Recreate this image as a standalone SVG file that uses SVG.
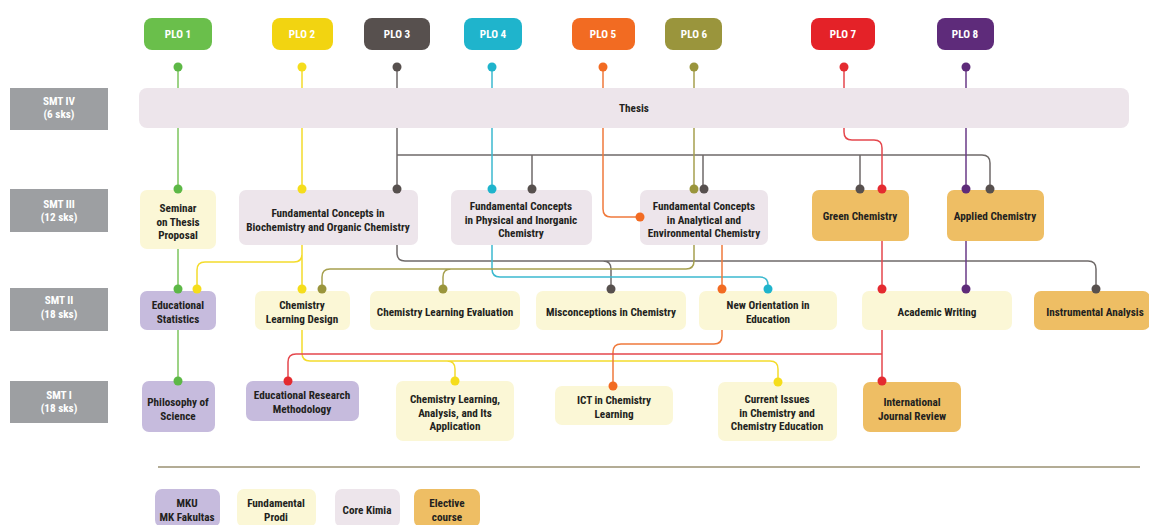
<svg xmlns="http://www.w3.org/2000/svg" width="1149" height="525" viewBox="0 0 1149 525">
<style>
text{font-family:"Liberation Sans Narrow","Roboto Condensed","DejaVu Sans Condensed","Liberation Sans",sans-serif;font-weight:bold;font-size:11.2px;fill:#231f20;text-anchor:middle}
.w{fill:#ffffff}
.smt{fill:#9d9fa2}
.core{fill:#ede5eb}
.fund{fill:#fbf7d6}
.mku{fill:#c6bbdd}
.elec{fill:#eebe64}
.c path{fill:none;stroke-width:1.5}
.g{stroke:#7dc55f}.y{stroke:#f4dc2c}.k{stroke:#6f6a69}.b{stroke:#3cb9cf}.o{stroke:#f07a3c}.v{stroke:#a6a04f}.r{stroke:#e5474d}.p{stroke:#6b3b88}
</style>
<rect width="1149" height="525" fill="#ffffff"/>
<g id="plo">
<g id="plo1"><rect x="144" y="18" width="68" height="32" rx="8" fill="#6abf4b"/><text class="w" x="178" y="38">PLO 1</text></g>
<g id="plo2"><rect x="272" y="18" width="61" height="32" rx="8" fill="#f2d411"/><text class="w" x="302" y="38">PLO 2</text></g>
<g id="plo3"><rect x="364" y="18" width="66" height="32" rx="8" fill="#57504e"/><text class="w" x="397" y="38">PLO 3</text></g>
<g id="plo4"><rect x="464" y="18" width="58" height="32" rx="8" fill="#1fb4cc"/><text class="w" x="493" y="38">PLO 4</text></g>
<g id="plo5"><rect x="572" y="18" width="63" height="32" rx="8" fill="#f26b22"/><text class="w" x="603" y="38">PLO 5</text></g>
<g id="plo6"><rect x="665" y="18" width="57" height="32" rx="8" fill="#9a953c"/><text class="w" x="694" y="38">PLO 6</text></g>
<g id="plo7"><rect x="811" y="18" width="64" height="32" rx="8" fill="#e42228"/><text class="w" x="843" y="38">PLO 7</text></g>
<g id="plo8"><rect x="937" y="18" width="57" height="32" rx="8" fill="#5e2b7a"/><text class="w" x="965" y="38">PLO 8</text></g>
</g>
<g id="semesters">
<g id="smt4"><rect class="smt" x="10" y="88" width="98" height="42"/><text class="w" x="59" y="105">SMT IV</text><text class="w" x="59" y="118">(6 sks)</text></g>
<g id="smt3"><rect class="smt" x="10" y="189" width="98" height="43"/><text class="w" x="59" y="208">SMT III</text><text class="w" x="59" y="221">(12 sks)</text></g>
<g id="smt2"><rect class="smt" x="10" y="288" width="98" height="43"/><text class="w" x="59" y="304">SMT II</text><text class="w" x="59" y="318">(18 sks)</text></g>
<g id="smt1"><rect class="smt" x="10" y="381" width="98" height="42"/><text class="w" x="59" y="399">SMT I</text><text class="w" x="59" y="412">(18 sks)</text></g>
</g>
<g id="thesis"><rect class="core" x="139" y="88" width="990" height="40" rx="8"/><text x="634" y="112">Thesis</text></g>
<g id="seminar"><rect class="fund" x="140" y="190" width="76" height="59" rx="7"/><text x="178" y="212">Seminar</text><text x="178" y="225.5">on Thesis</text><text x="178" y="239">Proposal</text></g>
<g id="biochem"><rect class="core" x="239" y="190" width="179" height="55" rx="7"/><text x="328" y="217">Fundamental Concepts in</text><text x="328" y="230.5">Biochemistry and Organic Chemistry</text></g>
<g id="physical"><rect class="core" x="451" y="190" width="141" height="55" rx="7"/><text x="521" y="210">Fundamental Concepts</text><text x="521" y="223.5">in Physical and Inorganic</text><text x="521" y="237">Chemistry</text></g>
<g id="analytical"><rect class="core" x="640" y="190" width="128" height="55" rx="7"/><text x="704" y="210">Fundamental Concepts</text><text x="704" y="223.5">in Analytical and</text><text x="704" y="237">Environmental Chemistry</text></g>
<g id="green"><rect class="elec" x="812" y="190" width="97" height="51" rx="7"/><text x="860" y="220">Green Chemistry</text></g>
<g id="applied"><rect class="elec" x="947" y="190" width="97" height="51" rx="7"/><text x="995" y="220">Applied Chemistry</text></g>
<g id="edstat"><rect class="mku" x="140" y="291" width="76" height="39" rx="7"/><text x="178" y="309">Educational</text><text x="178" y="322.5">Statistics</text></g>
<g id="cld"><rect class="fund" x="255" y="291" width="95" height="39" rx="7"/><text x="302" y="309">Chemistry</text><text x="302" y="322.5">Learning Design</text></g>
<g id="cle"><rect class="fund" x="370" y="291" width="150" height="39" rx="7"/><text x="445" y="316">Chemistry Learning Evaluation</text></g>
<g id="misc"><rect class="fund" x="536" y="291" width="150" height="39" rx="7"/><text x="611" y="316">Misconceptions in Chemistry</text></g>
<g id="noe"><rect class="fund" x="699" y="291" width="138" height="39" rx="7"/><text x="768" y="309">New Orientation in</text><text x="768" y="322.5">Education</text></g>
<g id="aw"><rect class="fund" x="862" y="291" width="150" height="39" rx="7"/><text x="937" y="316">Academic Writing</text></g>
<g id="ia"><rect class="elec" x="1034" y="291" width="116" height="39" rx="7"/><text x="1095" y="316">Instrumental Analysis</text></g>
<g id="phil"><rect class="mku" x="142" y="381" width="73" height="51" rx="7"/><text x="178" y="406">Philosophy of</text><text x="178" y="419.5">Science</text></g>
<g id="erm"><rect class="mku" x="246" y="381" width="113" height="40" rx="7"/><text x="302" y="399">Educational Research</text><text x="302" y="413">Methodology</text></g>
<g id="cla"><rect class="fund" x="396" y="381" width="118" height="60" rx="7"/><text x="455" y="403">Chemistry Learning,</text><text x="455" y="416.5">Analysis, and Its</text><text x="455" y="430">Application</text></g>
<g id="ict"><rect class="fund" x="555" y="386" width="118" height="39" rx="7"/><text x="614" y="404">ICT in Chemistry</text><text x="614" y="418">Learning</text></g>
<g id="ci"><rect class="fund" x="718" y="382" width="119" height="59" rx="7"/><text x="777" y="403">Current Issues</text><text x="777" y="416.5">in Chemistry and</text><text x="777" y="430">Chemistry Education</text></g>
<g id="ijr"><rect class="elec" x="863" y="382" width="98" height="50" rx="7"/><text x="912" y="406">International</text><text x="912" y="419.5">Journal Review</text></g>
<g id="separator"><line x1="158" y1="467" x2="1140" y2="467" stroke="#9a9072" stroke-width="1.5"/></g>
<g id="legend">
<g id="lg-mku"><rect class="mku" x="155" y="489" width="65" height="38" rx="7"/><text x="187" y="507">MKU</text><text x="187" y="521">MK Fakultas</text></g>
<g id="lg-fund"><rect class="fund" x="237" y="489" width="79" height="38" rx="7"/><text x="276" y="507">Fundamental</text><text x="276" y="521">Prodi</text></g>
<g id="lg-core"><rect class="core" x="335" y="489" width="65" height="38" rx="7"/><text x="367" y="514">Core Kimia</text></g>
<g id="lg-elec"><rect class="elec" x="414" y="489" width="66" height="38" rx="7"/><text x="447" y="507">Elective</text><text x="447" y="521">course</text></g>
</g>
<g id="connectors" class="c">
<path class="g" d="M178 67V88M178 128V189M178 249V289M178 330V381"/>
<path class="y" d="M302 67V88M302 128V189M302 245V289M302 254Q302 262 294 262H205Q197 262 197 270V289M302 330V353Q302 361 310 361H770Q778 361 778 369V382M447 361Q455 361 455 369V381"/>
<path class="k" d="M397 67V88M397 128V189M397 155H982Q990 155 990 163V189M532 155V189M703 155V189M860 155V189M397 245V253Q397 261 405 261H1088Q1096 261 1096 269V289M603 261Q611 261 611 269V289"/>
<path class="b" d="M492 67V88M492 128V189M492 245V269Q492 277 500 277H760Q768 277 768 285V289"/>
<path class="o" d="M603 67V88M603 128V209Q603 217 611 217H640M722 245V289M722 330V336Q722 344 714 344H621Q613 344 613 352V386"/>
<path class="v" d="M694 67V88M694 128V189M694 245V261Q694 269 686 269H330Q322 269 322 277V289M451 269Q443 269 443 277V289"/>
<path class="r" d="M844 67V88M844 128V132Q844 140 852 140H874Q882 140 882 148V189M882 241V289M882 330V381M882 354H296Q288 354 288 362V381"/>
<path class="p" d="M966 67V88M966 128V189M966 241V289"/>
</g>
<g id="connector-dots">
<g fill="#5db846"><circle cx="178" cy="67" r="4.5"/><circle cx="178" cy="189" r="4.5"/><circle cx="178" cy="289" r="4.5"/><circle cx="178" cy="381" r="4.5"/></g>
<g fill="#f5dd1c"><circle cx="302" cy="67" r="4.5"/><circle cx="302" cy="189" r="4.5"/><circle cx="197" cy="289" r="4.5"/><circle cx="302" cy="289" r="4.5"/><circle cx="455" cy="381" r="4.5"/><circle cx="778" cy="382" r="4.5"/></g>
<g fill="#57504e"><circle cx="397" cy="67" r="4.5"/><circle cx="397" cy="189" r="4.5"/><circle cx="532" cy="189" r="4.5"/><circle cx="704" cy="189" r="4.5"/><circle cx="860" cy="189" r="4.5"/><circle cx="990" cy="189" r="4.5"/><circle cx="611" cy="289" r="4.5"/><circle cx="1096" cy="289" r="4.5"/></g>
<g fill="#1fb4cc"><circle cx="492" cy="67" r="4.5"/><circle cx="492" cy="189" r="4.5"/><circle cx="768" cy="289" r="4.5"/></g>
<g fill="#f26b22"><circle cx="603" cy="67" r="4.5"/><circle cx="640" cy="217" r="4.5"/><circle cx="722" cy="289" r="4.5"/><circle cx="613" cy="386" r="4.5"/></g>
<g fill="#9a953c"><circle cx="694" cy="67" r="4.5"/><circle cx="694" cy="189" r="4.5"/><circle cx="322" cy="289" r="4.5"/><circle cx="443" cy="289" r="4.5"/></g>
<g fill="#e42b30"><circle cx="844" cy="67" r="4.5"/><circle cx="882" cy="189" r="4.5"/><circle cx="882" cy="289" r="4.5"/><circle cx="288" cy="381" r="4.5"/><circle cx="882" cy="381" r="4.5"/></g>
<g fill="#5e2b7a"><circle cx="966" cy="67" r="4.5"/><circle cx="966" cy="189" r="4.5"/><circle cx="966" cy="289" r="4.5"/></g>
</g>
</svg>
